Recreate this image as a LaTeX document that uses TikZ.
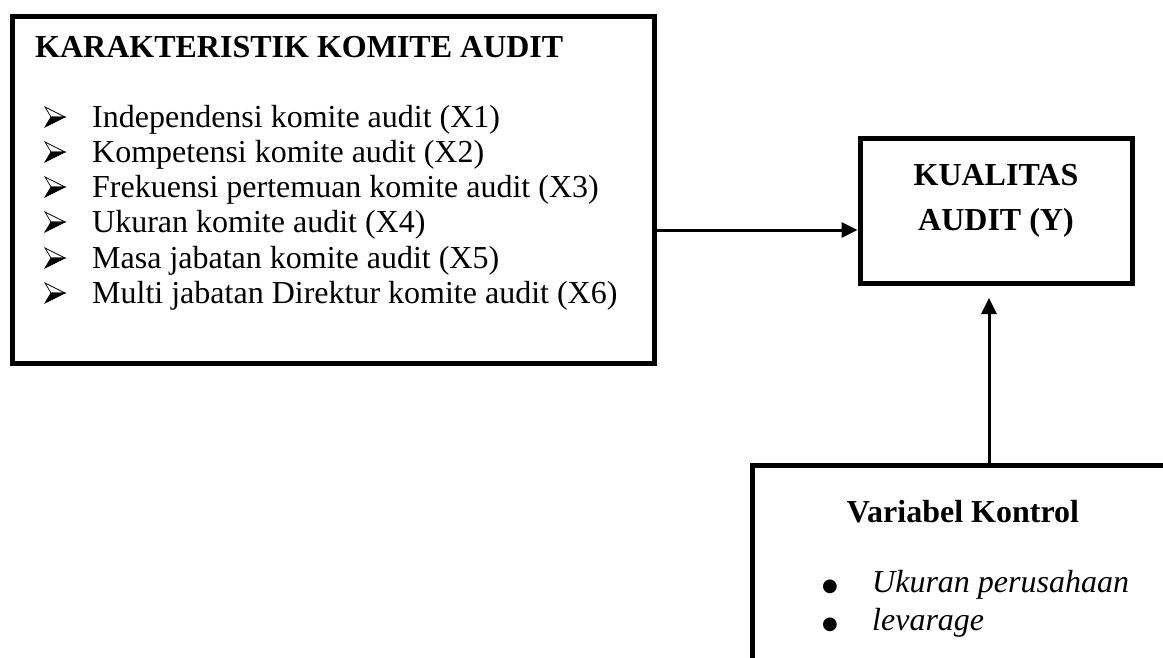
\documentclass[tikz,border=0pt]{standalone}
\usepackage{fontspec}
\setmainfont{Liberation Serif}
\newfontfamily\symfont{DejaVu Sans}
\usetikzlibrary{arrows.meta}

\tikzset{
  box/.style={draw, rectangle, line width=5pt, inner sep=0pt},
  conn/.style={line width=3pt, -{Triangle[length=16pt,width=15pt]}},
  txt/.style={inner sep=0pt, anchor=base west, font=\fontsize{32}{35}\selectfont},
  boldtxt/.style={txt, font=\fontsize{32}{35}\selectfont\bfseries},
  arrbullet/.pic={
    \filldraw[fill=white, line width=0.7pt, line join=miter] (0,-10) -- (20,0) -- (6,0) -- cycle;
    \filldraw[fill=black, line width=0.7pt, line join=miter] (0,10) -- (20,0) -- (6,0) -- cycle;
  },
}
\newcommand\dotbullet{{\symfont\fontsize{18}{18}\selectfont ●}}

\begin{document}
\begin{tikzpicture}[x=1pt,y=-1pt]
\useasboundingbox (0,0) rectangle (1163,657);

% the three boxes
\node[box, minimum width=642.5pt, minimum height=347pt] (karakter) at (333.25,190) {};
\node[box, minimum width=272pt, minimum height=144.5pt] (kualitas) at (996,210.75) {};
\node[box, minimum width=473pt, minimum height=300pt] (kontrol) at (989,615.5) {};

% left box
\node[boldtxt] (judul) at (35,57) {KARAKTERISTIK KOMITE AUDIT};
\pic at (45,117) {arrbullet};
\node[txt] (x1) at (92,127) {Independensi komite audit (X1)};
\pic at (45,152) {arrbullet};
\node[txt] (x2) at (92,162) {Kompetensi komite audit (X2)};
\pic at (45,187) {arrbullet};
\node[txt] (x3) at (92,197) {Frekuensi pertemuan komite audit (X3)};
\pic at (45,222) {arrbullet};
\node[txt] (x4) at (92,232) {Ukuran komite audit (X4)};
\pic at (45,258) {arrbullet};
\node[txt] (x5) at (92,268) {Masa jabatan komite audit (X5)};
\pic at (45,293) {arrbullet};
\node[txt] (x6) at (92,303) {Multi jabatan Direktur komite audit (X6)};

% right box
\node[boldtxt, anchor=base] (y1) at (996,185) {KUALITAS};
\node[boldtxt, anchor=base] (y2) at (996,230) {AUDIT (Y)};

% bottom box
\node[boldtxt, anchor=base] (kjudul) at (963,522) {Variabel Kontrol};
\node[txt] (d1) at (822,591) {\dotbullet};
\node[txt] (k1) at (872,592) {\itshape Ukuran perusahaan};
\node[txt] (d2) at (822,629) {\dotbullet};
\node[txt] (k2) at (872,630) {\itshape levarage};

% arrows
\coordinate (lvl) at (0,230);
\draw[conn] (karakter.east |- lvl) -- (kualitas.west |- lvl);
\draw[conn, shorten >=12.5pt] (kontrol.north) -- (kualitas.south -| kontrol.north);

\end{tikzpicture}
\end{document}
